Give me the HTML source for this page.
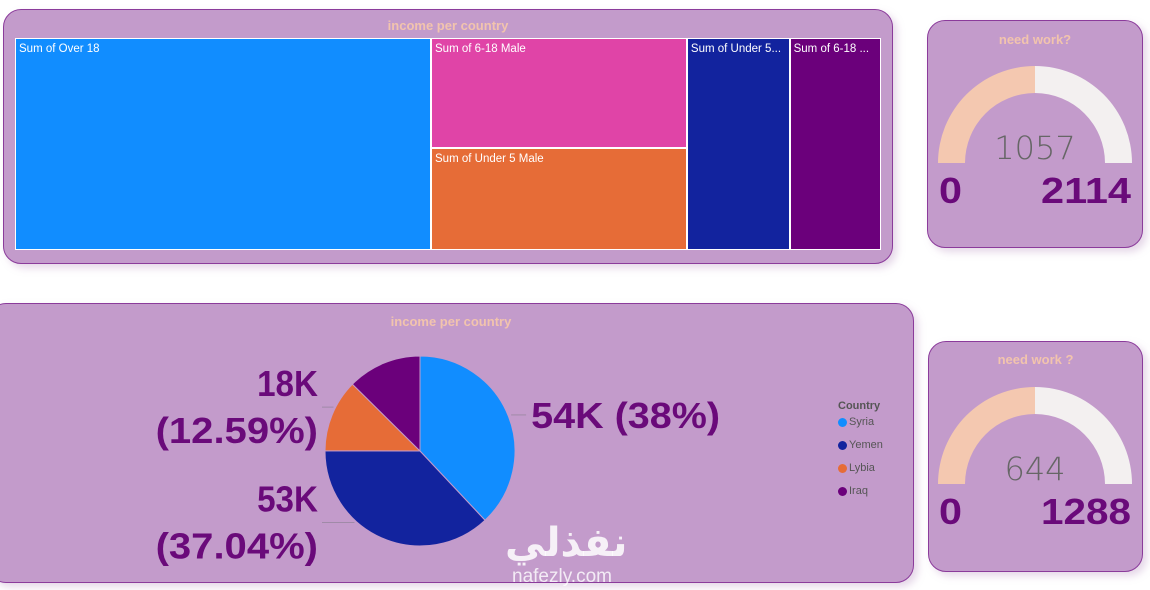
<!DOCTYPE html>
<html><head><meta charset="utf-8"><style>
body{margin:0;width:1150px;height:590px;background:#fff;position:relative;overflow:hidden;font-family:"Liberation Sans","DejaVu Sans",sans-serif}
.panel{position:absolute;background:#c39bcb;border:1px solid #8b3b9b;box-sizing:border-box;border-radius:18px;box-shadow:4px 4px 8px rgba(180,140,190,.35)}
.title{position:absolute;left:0;right:0;text-align:center;color:#f2c4ad;font-size:13px;font-weight:bold}
.cell{position:absolute;box-sizing:border-box;border:1px solid #fff;color:#fff;font-size:11.5px;padding:4px 3px;white-space:nowrap;overflow:hidden}
</style></head><body>
<div class="panel" style="left:3px;top:9px;width:890px;height:255px">
<div class="title" style="top:8px">income per country</div>
</div>
<div id="tm" style="position:absolute;left:15px;top:38px;width:866px;height:212px"></div>

<div class="panel" style="left:927px;top:20px;width:216px;height:228px">
<div class="title" style="top:11px">need work?</div></div>
<div class="panel" style="left:-12px;top:303px;width:926px;height:280px">
<div class="title" style="top:10px">income per country</div></div>
<div class="panel" style="left:928px;top:341px;width:215px;height:231px">
<div class="title" style="top:10px">need work ?</div></div>

<svg id="svg" width="1150" height="590" style="position:absolute;left:0;top:0"></svg>

<div style="position:absolute;left:838px;top:400px;font-size:11px;color:#555">
<div style="font-weight:bold;color:#555;margin-bottom:4px">Country</div>
<div id="leg"></div></div>

<div style="position:absolute;left:505px;top:520px;color:rgba(255,255,255,.85);font-size:40px;font-weight:bold;font-family:'DejaVu Sans',sans-serif">نفذلي</div>
<div style="position:absolute;left:512px;top:566px;color:rgba(255,255,255,.8);font-size:19px">nafezly.com</div>

<script>
const tmLabels=["Sum of Over 18","Sum of 6-18 Male","Sum of Under 5 Male","Sum of Under 5...","Sum of 6-18 ..."];
const tmValues=[47.8,15.3,14.1,11.8,10.5];
const tmColors=["#118dff","#e044a7","#e66c37","#12239e","#6b007b"];
const pieLabels=["Syria","Yemen","Lybia","Iraq"];
const pieValues=[38,37.04,12.37,12.59];
const pieText=["54K (38%)","53K (37.04%)","","18K (12.59%)"];
const pieColors=["#118dff","#12239e","#e66c37","#6b007b"];
const gaugeValues=[1057,644];
const gaugeMax=[2114,1288];

const NS="http://www.w3.org/2000/svg";
const svg=document.getElementById('svg');
function mk(t,a){const e=document.createElementNS(NS,t);for(const k in a)e.setAttribute(k,a[k]);svg.appendChild(e);return e;}

const tm=document.getElementById('tm');const W=866,H=212;
const tot=tmValues.reduce((a,b)=>a+b,0);
const cols=[[0],[1,2],[3],[4]];let x=0;
cols.forEach(c=>{const cs=c.reduce((s,i)=>s+tmValues[i],0);const w=W*cs/tot;let y=0;
 c.forEach(i=>{const h=H*tmValues[i]/cs;const d=document.createElement('div');d.className='cell';
  
  
  d.style.cssText=`left:${x}px;top:${y}px;width:${w}px;height:${h}px;background:${tmColors[i]}`;d.textContent=tmLabels[i];tm.appendChild(d);y+=h;});
 x+=w;});

const cx=420,cy=451,r=95;let a0=-Math.PI/2;const ptot=pieValues.reduce((a,b)=>a+b,0);
pieValues.forEach((v,i)=>{const a1=a0+2*Math.PI*v/ptot;
 const p=mk('path',{d:`M${cx},${cy}L${cx+r*Math.cos(a0)},${cy+r*Math.sin(a0)}A${r},${r} 0 ${a1-a0>Math.PI?1:0} 1 ${cx+r*Math.cos(a1)},${cy+r*Math.sin(a1)}Z`,fill:pieColors[i],stroke:'#c39bcb','stroke-width':1});
 
 
 if(pieText[i]){const am=(a0+a1)/2;
  const right=Math.cos(am)>0;
  const ex=cx+(r+3)*Math.cos(am),ey=cy+(r+3)*Math.sin(am);
  let ly=right?ey:cy+(ey-cy)*0.64+14;
  const ln=mk('path',{d:''});
  if(right) ln.setAttribute('d',`M${ex},${ey}L${ex+15},${ey}`);
  else ln.setAttribute('d',`M${cx+(r+2)*Math.cos(Math.PI-Math.asin((ly-cy)/(r+2)))},${ly}L322,${ly}`);
  ln.setAttribute('stroke','#a08aa8');ln.setAttribute('fill','none');
  
  
  const parts=right?[pieText[i]]:pieText[i].split(' ');
  parts.forEach((s,k)=>{
   let tx,ty;
   if(right){tx=ex+20;ty=ey+13;}else{tx=318;ty=ly+(k===0?-11:36);}
   const t=mk('text',{x:tx,y:ty,'text-anchor':right?'start':'end','font-size':36,'font-weight':'bold',fill:'#6a0a7a','font-family':'Liberation Sans, sans-serif',textLength:s.length*(right?21:20.3),lengthAdjust:'spacingAndGlyphs'});
   t.textContent=s;
   
   });}
 a0=a1;});

const leg=document.getElementById('leg');
pieLabels.forEach((l,i)=>{const d=document.createElement('div');
 
 
 d.style.cssText='height:23px;display:flex;align-items:flex-start';
 d.innerHTML=`<span style="width:9px;height:9px;border-radius:50%;background:${pieColors[i]};display:inline-block;margin:2px 2px 0 0"></span>${l}`;leg.appendChild(d);});

const gc=[[1035,163],[1035,484]];
gaugeValues.forEach((v,i)=>{const [gx,gy]=gc[i];const R=97,ri=70;
 function arc(f0,f1,col,name){const b0=Math.PI*(1+f0),b1=Math.PI*(1+f1);
  const p=mk('path',{d:`M${gx+R*Math.cos(b0)},${gy+R*Math.sin(b0)}A${R},${R} 0 0 1 ${gx+R*Math.cos(b1)},${gy+R*Math.sin(b1)}L${gx+ri*Math.cos(b1)},${gy+ri*Math.sin(b1)}A${ri},${ri} 0 0 0 ${gx+ri*Math.cos(b0)},${gy+ri*Math.sin(b0)}Z`,fill:col});
  
  }
 const f=v/gaugeMax[i];
 arc(0,f,'#f4c8b0','gauge-fill');
 arc(f,1,'#f3f0f0','gauge-remaining');
 const t=mk('text',{x:gx,y:gy-4,'text-anchor':'middle','font-size':32,fill:'#666','font-family':'DejaVu Sans, sans-serif','font-weight':'200'});t.textContent=v;
 
 
 const t0=mk('text',{x:gx-96,y:gy+40,'font-size':36,'font-weight':'bold',fill:'#6a0a7a','font-family':'Liberation Sans, sans-serif',textLength:23,lengthAdjust:'spacingAndGlyphs'});t0.textContent='0';
 
 
 const t1=mk('text',{x:gx+96,y:gy+40,'text-anchor':'end','font-size':36,'font-weight':'bold',fill:'#6a0a7a','font-family':'Liberation Sans, sans-serif',textLength:90,lengthAdjust:'spacingAndGlyphs'});t1.textContent=gaugeMax[i];
 
 
});
</script>
</body></html>
